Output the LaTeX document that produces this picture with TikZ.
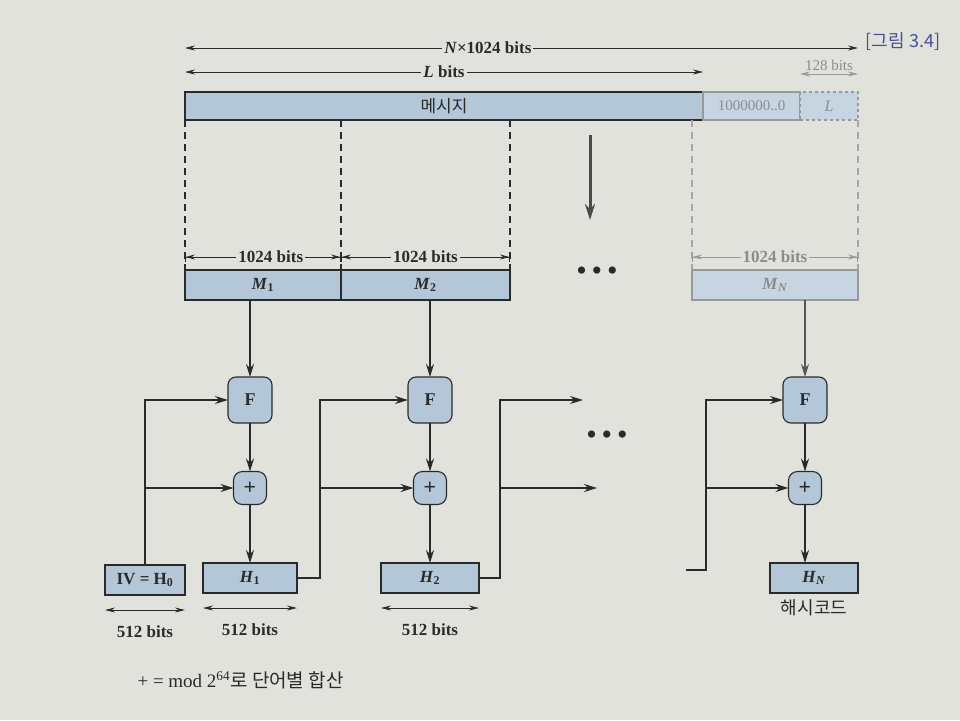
\documentclass[tikz,border=0pt]{standalone}
\usepackage{fontspec}
\setmainfont{Liberation Serif}
\newfontfamily\krfont{Noto Sans CJK KR}
\usetikzlibrary{arrows.meta,positioning,calc}
\definecolor{paper}{RGB}{226,226,220}
\definecolor{blk}{RGB}{180,199,216}
\definecolor{ink}{RGB}{42,42,42}
\definecolor{figblue}{RGB}{70,80,150}
\newcommand{\kr}{\krfont\mdseries}

\begin{document}
\begin{tikzpicture}[x=1pt, y=-1pt,
  font=\fontsize{16}{18}\selectfont\bfseries,
  blkbox/.style={draw=ink, fill=blk, inner sep=0pt, outer sep=0pt, line width=1.1pt, text=ink},
  faint/.style={draw=gray!80, text=gray!90, fill=blk!75},
  fbox/.style={blkbox, rounded corners=8pt, minimum width=44pt, minimum height=46pt, font=\fontsize{18}{20}\selectfont\bfseries},
  addbox/.style={blkbox, rounded corners=9pt, minimum size=33pt, font=\fontsize{22}{22}\selectfont\bfseries},
  hbox/.style={blkbox, minimum height=30pt, font=\fontsize{17}{19}\selectfont\bfseries},
  arr/.style={-{Stealth[length=13pt,width=8pt]}, line width=1.7pt, draw=ink},
  bigarr/.style={-{Stealth[length=16pt,width=10pt]}, line width=3pt, draw=ink!85},
  span/.style={{Stealth[length=10pt,width=5pt]}-{Stealth[length=10pt,width=5pt]}, line width=0.8pt, draw=ink},
  dim/.style={{Bar[width=10pt]Stealth[length=9pt,width=5pt]}-{Stealth[length=9pt,width=5pt]Bar[width=10pt]}, line width=0.8pt, draw=ink},
  cut/.style={line width=1.3pt, draw=ink, dash pattern=on 7pt off 5pt},
  lab/.style={font=\fontsize{17}{19}\selectfont\bfseries, text=ink, inner sep=2pt},
  dots/.style={font=\fontsize{30}{30}\selectfont, text=ink, inner sep=0pt}
]
  \fill[paper] (0,0) rectangle (960,720);
  \useasboundingbox (0,0) rectangle (960,720);

  % padded message
  \node[blkbox, anchor=north west, minimum width=518pt, minimum height=28pt,
    font=\fontsize{17}{19}\selectfont\kr] (msg) at (185,92) {메시지};
  \node[blkbox, faint, right=0pt of msg, minimum width=97pt, minimum height=28pt,
    font=\fontsize{15}{17}\selectfont] (pad) {1000000..0};
  \node[blkbox, faint, dashed, right=0pt of pad, minimum width=58pt, minimum height=28pt,
    font=\fontsize{16}{18}\selectfont\itshape] (len) {L};

  \draw[span] ([yshift=44pt]msg.north west) -- node[lab, fill=paper, pos=0.45] {\textit{N}×1024 bits} ([yshift=44pt]len.north east);
  \draw[span] ([yshift=20pt]msg.north west) -- node[lab, fill=paper] {\textit{L} bits} ([yshift=20pt]msg.north east);
  \draw[span, draw=gray!80] ([yshift=18pt]pad.north east) -- node[lab, above=1pt, text=gray!90, font=\fontsize{15}{17}\selectfont] (w128) {128 bits} ([yshift=18pt]len.north east);

  \coordinate (dn1) at (590,135);
  \coordinate (dn2) at (590,220);
  \draw[bigarr] (dn1) -- (dn2);

  % message blocks
  \node[hbox, anchor=north west, minimum width=156pt] (m1) at (185,270) {\textit{M}\textsubscript{1}};
  \node[hbox, right=0pt of m1, minimum width=169pt] (m2) {\textit{M}\textsubscript{2}};
  \node[hbox, faint, anchor=north west, minimum width=166pt] (mN) at (692,270) {\textit{M}\textsubscript{\textit{N}}};
  \node[dots] (dots1) at (597,274) {•\,•\,•};

  \draw[cut] (msg.south west) -- (m1.north west);
  \draw[cut] (msg.south -| m1.north east) -- (m1.north east);
  \draw[cut] (msg.south -| m2.north east) -- (m2.north east);
  \draw[cut, draw=gray!70] (msg.south -| mN.north west) -- (mN.north west);
  \draw[cut, draw=gray!70] (len.south east) -- (mN.north east);

  \draw[dim] ([yshift=13pt]m1.north west) -- node[lab, fill=paper, pos=0.55] {1024 bits} ([yshift=13pt]m1.north east);
  \draw[dim] ([yshift=13pt]m2.north west) -- node[lab, fill=paper, pos=0.5] {1024 bits} ([yshift=13pt]m2.north east);
  \draw[dim, draw=gray!80] ([yshift=13pt]mN.north west) -- node[lab, fill=paper, text=gray!90] {1024 bits} ([yshift=13pt]mN.north east);

  % compression stages
  \node[fbox] (f1) at (250,400) {F};
  \node[addbox] (a1) at (250,488) {+};
  \node[hbox, minimum width=94pt] (h1) at (250,578) {\textit{H}\textsubscript{1}};
  \node[hbox, minimum width=80pt] (h0) at (145,580) {IV = H\textsubscript{0}};

  \node[fbox] (f2) at (430,400) {F};
  \node[addbox] (a2) at (430,488) {+};
  \node[hbox, minimum width=98pt] (h2) at (430,578) {\textit{H}\textsubscript{2}};

  \node[fbox] (fN) at (805,400) {F};
  \node[addbox] (aN) at (805,488) {+};
  \node[hbox, minimum width=88pt] (hN) at (814,578) {\textit{H}\textsubscript{\textit{N}}};
  \node[font=\fontsize{18}{20}\selectfont\kr, text=ink, below=3pt of hN] (hash) {해시코드};
  \node[dots] (dots2) at (607,438) {•\,•\,•};

  \draw[arr] (f1 |- m1.south) -- (f1);
  \draw[arr] (f2 |- m2.south) -- (f2);
  \draw[arr, draw=ink!80] (fN |- mN.south) -- (fN);
  \draw[arr] (f1) -- (a1);
  \draw[arr] (a1) -- (h1);
  \draw[arr] (f2) -- (a2);
  \draw[arr] (a2) -- (h2);
  \draw[arr] (fN) -- (aN);
  \draw[arr] (aN) -- (aN |- hN.north);

  \draw[arr] (h0.north) |- (f1.west);
  \draw[arr] (h0.north |- a1.west) -- (a1.west);

  \coordinate (j1) at ([xshift=23pt]h1.east);
  \draw[arr] (h1.east) -- (j1) |- (f2.west);
  \draw[arr] (j1 |- a2.west) -- (a2.west);

  \coordinate (j2) at ([xshift=21pt]h2.east);
  \coordinate (outF) at (583,400);
  \coordinate (outA) at (597,488);
  \draw[arr] (h2.east) -- (j2) |- (outF);
  \draw[arr] (j2 |- outA) -- (outA);

  \coordinate (inN) at (686,570);
  \coordinate (jN) at (706,570);
  \draw[arr] (inN) -- (jN) |- (fN.west);
  \draw[arr] (jN |- aN.west) -- (aN.west);

  % block sizes
  \draw[span] ([yshift=-15pt]h0.south west) -- ([yshift=-15pt]h0.south east);
  \node[lab, below=28pt of h0] (b0) {512 bits};
  \draw[span] ([yshift=-15pt]h1.south west) -- ([yshift=-15pt]h1.south east);
  \node[lab, below=28pt of h1] (b1) {512 bits};
  \draw[span] ([yshift=-15pt]h2.south west) -- ([yshift=-15pt]h2.south east);
  \node[lab, below=28pt of h2] (b2) {512 bits};

  \node[anchor=west, font=\fontsize{19}{21}\selectfont\mdseries, text=ink] (note) at (134,680)
    {+ = mod 2\textsuperscript{64}{\kr 로 단어별 합산}};
  \node[font=\fontsize{18}{20}\selectfont\kr, text=figblue] (figno) at (903,42) {[그림 3.4]};
\end{tikzpicture}
\end{document}
